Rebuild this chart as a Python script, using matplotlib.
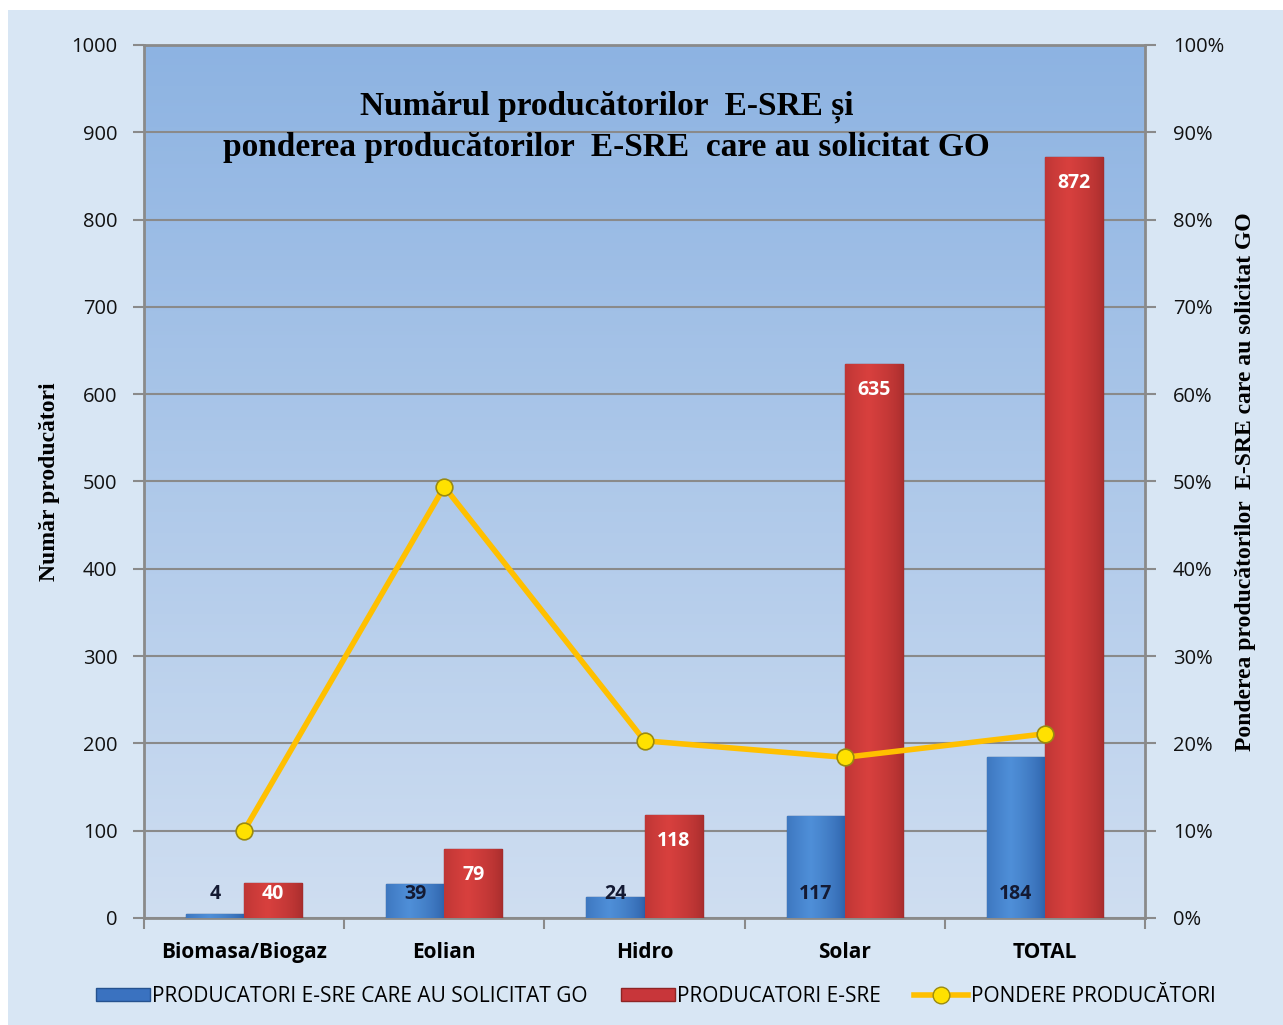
import numpy as np
import matplotlib
matplotlib.use("Agg")
import matplotlib.pyplot as plt
from matplotlib.patches import Rectangle
from matplotlib.lines import Line2D

categories = ["Biomasa/Biogaz", "Eolian", "Hidro", "Solar", "TOTAL"]
solicitat_go = [4, 39, 24, 117, 184]
producatori = [40, 79, 118, 635, 872]
pondere = [10.0, 49.4, 20.3, 18.4, 21.1]
left_ticks = [0, 100, 200, 300, 400, 500, 600, 700, 800, 900, 1000]
right_ticks = [0, 10, 20, 30, 40, 50, 60, 70, 80, 90, 100]

TICKFONT = ["Open Sans", "DejaVu Sans"]
SERIF = ["Liberation Serif", "DejaVu Serif"]

fig = plt.figure(figsize=(12.83, 10.25), dpi=100)
fig.patch.set_facecolor("white")
fig.patches.append(Rectangle((0.006, 0.0), 0.994, 0.99, transform=fig.transFigure,
                             facecolor="#d8e6f4", edgecolor="none", zorder=-10))

ax = fig.add_axes([0.1122, 0.1044, 0.7803, 0.8517])
x = np.arange(len(categories))
w = 0.29

# plot-area gradient
grad = np.linspace(0, 1, 256).reshape(-1, 1)
top = np.array([0x8d, 0xb3, 0xe2]) / 255
bot = np.array([0xcf, 0xde, 0xf1]) / 255
img = top[None, None, :] * (1 - grad[:, :, None]) + bot[None, None, :] * grad[:, :, None]
ax.imshow(img, extent=[0, 1, 0, 1], transform=ax.transAxes, aspect="auto", zorder=0)


def shaded(bars, dark, light):
    dark = np.array(matplotlib.colors.to_rgb(dark))
    light = np.array(matplotlib.colors.to_rgb(light))
    t = np.linspace(0, 1, 64)
    prof = np.clip(1 - np.abs(t - 0.4) / 0.6, 0, 1) ** 0.6
    row = dark[None, :] * (1 - prof[:, None]) + light[None, :] * prof[:, None]
    im = row[None, :, :]
    for b in bars:
        x0, y0 = b.get_x(), b.get_y()
        bw, bh = b.get_width(), b.get_height()
        gi = ax.imshow(im, extent=[x0, x0 + bw, y0, y0 + bh], aspect="auto",
                       zorder=3.5, interpolation="bilinear")
        gi.set_clip_path(b)


b1 = ax.bar(x - w / 2, solicitat_go, width=w, color="#3a72c0", edgecolor="#25528f",
            linewidth=1, zorder=3)
b2 = ax.bar(x + w / 2, producatori, width=w, color="#c8363a", edgecolor="#8e2424",
            linewidth=1, zorder=3)
shaded(b1, "#2b5ea6", "#4f8fd8")
shaded(b2, "#a52c2c", "#d8403e")

for xi, v in zip(x, solicitat_go):
    ax.text(xi - w / 2, 28, str(v), ha="center", va="center", fontsize=14,
            fontweight="bold", color="#141a33", family=TICKFONT, zorder=5)
for xi, v in zip(x, producatori):
    ax.text(xi + w / 2, max(v - 30, 28), str(v), ha="center", va="center", fontsize=14,
            fontweight="bold", color="white", family=TICKFONT, zorder=5)

ax.set_xlim(-0.5, len(categories) - 0.5)
ax.set_ylim(0, 1000)
ax.set_yticks(left_ticks)
ax.set_yticklabels([str(t) for t in left_ticks], fontsize=14.5, family=TICKFONT, color="#111111")
ax.yaxis.grid(True, color="#8a8a8a", linewidth=1.5, zorder=1)
ax.set_axisbelow(True)
ax.set_xticks(np.arange(-0.5, len(categories) + 0.5, 1.0))
ax.set_xticklabels([])
ax.set_xticks(x, minor=True)
ax.set_xticklabels(categories, minor=True, fontsize=15, fontweight="bold", family=TICKFONT)
ax.tick_params(axis="x", which="minor", length=0, pad=17)
ax.tick_params(axis="x", which="major", length=8, width=1.5, color="#8a8a8a", direction="out")
ax.tick_params(axis="y", length=8, width=1.5, color="#8a8a8a", pad=11)
for s in ax.spines.values():
    s.set_color("#8a8a8a")
    s.set_linewidth(2)

ax.set_ylabel("Număr producători", family=SERIF, fontsize=17, fontweight="bold", labelpad=8)

ax2 = ax.twinx()
ax2.plot(x, pondere, color="#ffc000", linewidth=4, marker="o", markersize=12,
         markerfacecolor="#ffe100", markeredgecolor="#9a8a10", markeredgewidth=1.2, zorder=6)
ax2.set_ylim(0, 100)
ax2.set_yticks(right_ticks)
ax2.set_yticklabels([f"{t}%" for t in right_ticks], fontsize=14.5, family=TICKFONT, color="#111111")
ax2.tick_params(axis="y", length=8, width=1.5, color="#8a8a8a", pad=12)
for s in ax2.spines.values():
    s.set_visible(False)
ax2.set_ylabel("Ponderea producătorilor  E-SRE care au solicitat GO", family=SERIF,
               fontsize=17, fontweight="bold", labelpad=8)

fig.text(0.473, 0.896, "Numărul producătorilor  E-SRE și", ha="center", va="center",
         family=SERIF, fontsize=24, fontweight="bold")
fig.text(0.473, 0.856, "ponderea producătorilor  E-SRE  care au solicitat GO", ha="center",
         va="center", family=SERIF, fontsize=24, fontweight="bold")

handles = [Rectangle((0, 0), 1, 1, facecolor="#3a72c0", edgecolor="#25528f"),
           Rectangle((0, 0), 1, 1, facecolor="#c8363a", edgecolor="#8e2424"),
           Line2D([], [], color="#ffc000", linewidth=4, marker="o", markersize=12,
                  markerfacecolor="#ffe100", markeredgecolor="#9a8a10")]
labels = ["PRODUCATORI E-SRE CARE AU SOLICITAT GO", "PRODUCATORI E-SRE", "PONDERE PRODUCĂTORI"]
fig.legend(handles, labels, loc="center", bbox_to_anchor=(0.511, 0.028), ncol=3,
           frameon=False, prop={"family": TICKFONT, "size": 15}, handlelength=2.6,
           handleheight=0.6, columnspacing=1.6, handletextpad=0.1)

fig.savefig("out.png", dpi=100)
